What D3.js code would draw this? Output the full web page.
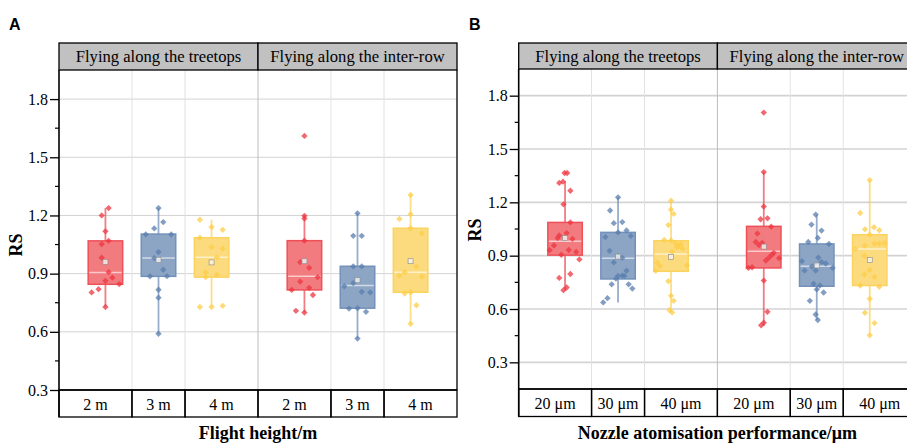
<!DOCTYPE html>
<html>
<head>
<meta charset="utf-8">
<script src="https://cdn.jsdelivr.net/npm/d3@7"></script>
<style>
  body { margin: 0; background: #fff; }
  svg { display: block; font-family: "Liberation Serif", "Times New Roman", serif; }
</style>
</head>
<body>
<div id="chart"></div>
<script>
// facet titles and x categories
let facets = ["Flying along the treetops", "Flying along the inter-row"];
let heightCats = ["2 m", "3 m", "4 m"];
let nozzleCats = ["20 μm", "30 μm", "40 μm"];
let yTicks = [0.3, 0.6, 0.9, 1.2, 1.5, 1.8];
let yMinor = [0.45, 0.75, 1.05, 1.35, 1.65];

// raw points: [RS, jitter in category units]
let treeH2 = [[1.238,0.06],[1.2,-0.07],[1.118,0],[1.052,-0.07],[1.069,0.06],[0.982,-0.07],[0.908,0.06],[0.879,0.13],[0.863,0],[0.846,0.26],[0.82,-0.13],[0.803,-0.26],[0.728,0]];
let treeH3 = [[1.238,0],[1.166,0.09],[1.133,-0.08],[1.102,-0.24],[1.102,0.24],[1.011,0],[0.98,-0.08],[0.92,0.09],[0.886,-0.16],[0.887,0.16],[0.817,0],[0.776,0],[0.59,0]];
let treeH4 = [[1.178,-0.22],[1.14,0],[1.126,0.21],[1.085,-0.22],[1.037,0],[1.03,0.21],[0.984,0.1],[0.906,-0.11],[0.882,-0.11],[0.894,0.1],[0.728,-0.22],[0.728,0],[0.734,0.21]];
let rowH2 = [[1.61,0],[1.198,0],[1.184,0],[1.07,0],[0.959,-0.08],[0.93,0.09],[0.882,0.25],[0.859,-0.08],[0.827,0.09],[0.816,-0.24],[0.79,0.16],[0.708,-0.16],[0.699,0]];
let rowH3 = [[1.211,0],[1.095,-0.08],[1.095,0.08],[0.937,-0.08],[0.937,0.08],[0.851,-0.08],[0.835,-0.25],[0.806,0.08],[0.803,0.24],[0.72,-0.16],[0.722,0],[0.703,0.16],[0.565,0]];
let rowH4 = [[1.306,0],[1.182,-0.21],[1.206,0],[1.134,0],[1.108,0.21],[0.936,0.11],[0.907,-0.11],[0.89,-0.21],[0.885,0.21],[0.797,-0.11],[0.804,0],[0.737,0.11],[0.641,0]];

let treeN20 = [[1.365,-0.01],[1.365,0.04],[1.316,-0.04],[1.309,-0.11],[1.265,0.1],[1.189,-0.03],[1.087,0.1],[1.027,0.03],[1.014,-0.11],[0.999,-0.14],[0.994,0.14],[0.957,-0.21],[0.931,-0.29],[0.932,0.07],[0.921,0.21],[0.905,-0.07],[0.879,0.27],[0.797,0.1],[0.775,-0.11],[0.721,0.03],[0.706,-0.03]];
let treeN30 = [[1.228,0],[1.154,-0.15],[1.083,-0.08],[1.089,0.08],[1.042,0.16],[1.031,0],[1.005,-0.24],[1.011,0.24],[0.927,-0.16],[0.897,0],[0.888,0.08],[0.862,-0.08],[0.815,0.16],[0.789,0.08],[0.786,0],[0.786,0.12],[0.771,-0.04],[0.739,-0.12],[0.739,0.2],[0.715,0.27],[0.661,-0.2],[0.637,-0.28]];
let treeN40 = [[1.209,0],[1.159,0],[1.135,0.05],[1.072,-0.05],[0.988,-0.13],[0.986,0],[0.97,0.08],[0.966,0.19],[0.953,0.14],[0.948,0.11],[0.94,0.22],[0.923,0.02],[0.86,-0.26],[0.841,-0.21],[0.815,-0.29],[0.845,0.3],[0.756,-0.05],[0.674,0],[0.646,0.05],[0.594,-0.03],[0.581,0.02]];
let rowN20 = [[1.705,0],[1.37,0],[1.176,0],[1.105,-0.06],[1.11,0.07],[1.063,0.14],[1.024,-0.12],[0.977,-0.15],[0.959,-0.09],[0.972,-0.03],[0.916,0.19],[0.904,0.15],[0.889,0.1],[0.873,0.04],[0.886,0.29],[0.831,-0.29],[0.835,-0.22],[0.76,0],[0.584,0.07],[0.523,0],[0.508,-0.05]];
let rowN30 = [[1.131,-0.02],[1.075,-0.1],[1.041,0.09],[1.0,0.02],[0.977,-0.16],[0.966,0.23],[0.889,0.03],[0.869,-0.28],[0.865,0.09],[0.856,0.17],[0.839,-0.09],[0.831,0.3],[0.816,-0.23],[0.816,-0.02],[0.742,-0.06],[0.732,0.06],[0.71,0],[0.693,0.13],[0.646,-0.13],[0.569,-0.02],[0.538,0.02]];
let rowN40 = [[1.325,0],[1.14,-0.18],[1.048,-0.09],[1.06,0.08],[1.043,0.18],[1.018,0],[0.968,0.09],[0.968,0.18],[0.97,0.28],[0.957,-0.09],[0.938,-0.27],[0.9,-0.1],[0.82,0],[0.794,-0.1],[0.781,0.09],[0.732,-0.18],[0.725,0.18],[0.657,0],[0.579,-0.09],[0.521,0.09],[0.452,0]];

// box statistics: [whisker low, Q1, median, Q3, whisker high, mean]
let statsTreeH = [[0.728,0.845,0.906,1.069,1.238,0.961],[0.59,0.886,0.98,1.104,1.238,0.97],[0.728,0.882,0.985,1.085,1.178,0.958]];
let statsRowH = [[0.699,0.816,0.887,1.07,1.201,0.964],[0.565,0.722,0.839,0.938,1.211,0.866],[0.641,0.804,0.907,1.134,1.306,0.964]];
let statsTreeN = [[0.706,0.903,0.981,1.087,1.318,0.999],[0.637,0.769,0.886,1.031,1.228,0.895],[0.581,0.812,0.91,0.984,1.209,0.893]];
let statsRowN = [[0.504,0.831,0.925,1.065,1.37,0.951],[0.538,0.728,0.841,0.966,1.131,0.845],[0.452,0.732,0.938,1.018,1.325,0.876]];

let colors = ["#EE3540", "#5A7EAE", "#FDCE48"];
let boxFill = ["#F27B80", "#8CA5C4", "#FCDB7E"];
let boxStroke = ["#EE5058", "#7391BA", "#FBD35F"];

let svg = d3.select("#chart")
  .append("svg")
    .attr("width", 907)
    .attr("height", 443);

svg.append("rect").attr("width", 907).attr("height", 443).attr("fill", "#fff");

function drawPanel(p) {
  let g = svg.append("g");
  let plotTop = p.top + p.headerH;
  let plotBottom = plotTop + p.plotH;
  let right = p.left + p.facetW * 2;

  let y = d3.scaleLinear().domain(p.yDomain).range([plotBottom, plotTop]);
  let xs = [0, 1].map(f => d3.scaleLinear()
    .domain([0.125, 3.875])
    .range([p.left + f * p.facetW, p.left + (f + 1) * p.facetW]));

  // horizontal grid
  g.selectAll(".hgrid")
    .data(yTicks)
    .enter().append("line")
      .attr("x1", p.left).attr("x2", right)
      .attr("y1", d => y(d)).attr("y2", d => y(d))
      .attr("stroke", "#d3d3d3")
      .attr("stroke-width", p.gridW);

  // vertical grid between categories
  xs.forEach(x => {
    [1.5, 2.5].forEach(v => {
      g.append("line")
        .attr("x1", x(v)).attr("x2", x(v))
        .attr("y1", plotTop).attr("y2", plotBottom)
        .attr("stroke", "#e2e2e2");
    });
  });
  g.append("line")
    .attr("x1", xs[1](0.125)).attr("x2", xs[1](0.125))
    .attr("y1", plotTop).attr("y2", plotBottom)
    .attr("stroke", "#bdbdbd");

  // boxes, whiskers and points
  p.groups.forEach((facet, f) => {
    let x = xs[f];
    facet.forEach((grp, i) => {
      let s = grp.stats;
      let cx = x(i + 1);
      let bw = x(1.65) - x(1);

      g.append("line")
        .attr("x1", cx).attr("x2", cx)
        .attr("y1", y(s[0])).attr("y2", y(s[4]))
        .attr("stroke", boxStroke[i])
        .attr("stroke-opacity", 0.75)
        .attr("stroke-width", 1.8);

      g.append("rect")
        .attr("x", cx - bw / 2)
        .attr("width", bw)
        .attr("y", y(s[3]))
        .attr("height", y(s[1]) - y(s[3]))
        .attr("fill", boxFill[i])
        .attr("stroke", boxStroke[i])
        .attr("stroke-width", 1.5);

      g.append("line")
        .attr("x1", cx - bw / 2 + 1).attr("x2", cx + bw / 2 - 1)
        .attr("y1", y(s[2])).attr("y2", y(s[2]))
        .attr("stroke", "#fff")
        .attr("stroke-opacity", 0.6)
        .attr("stroke-width", 1.5);

      g.selectAll(null)
        .data(grp.points)
        .enter().append("path")
          .attr("d", d3.symbol(d3.symbolSquare, 20)())
          .attr("transform", d => "translate(" + x(i + 1 + d[1]) + "," + y(d[0]) + ") rotate(45)")
          .attr("fill", colors[i])
          .attr("fill-opacity", 0.75);

      g.append("rect")
        .attr("x", cx - 2.5).attr("y", y(s[5]) - 2.5)
        .attr("width", 5).attr("height", 5)
        .attr("fill", "#f4f4f4")
        .attr("fill-opacity", 0.8)
        .attr("stroke", "#8a8a8a")
        .attr("stroke-width", 0.6);
    });
  });

  // y axis
  g.append("g")
    .attr("transform", "translate(" + p.left + ",0)")
    .call(d3.axisLeft(y).tickValues(yTicks).tickFormat(d3.format(".1f")).tickSize(9).tickPadding(2))
    .call(a => a.select(".domain").remove())
    .call(a => a.selectAll("text").attr("font-family", "Liberation Serif").attr("font-size", 16).attr("fill", "#000"))
    .call(a => a.selectAll("line").attr("stroke", "#000").attr("stroke-width", 1.3));
  g.selectAll(".minor")
    .data(yMinor)
    .enter().append("line")
      .attr("x1", p.left - 4).attr("x2", p.left)
      .attr("y1", d => y(d)).attr("y2", d => y(d))
      .attr("stroke", "#000").attr("stroke-width", 1.2);

  // frame lines of the plot
  g.append("line")
    .attr("x1", p.left).attr("x2", p.left)
    .attr("y1", plotTop).attr("y2", plotBottom + p.catH)
    .attr("stroke", "#000").attr("stroke-width", 1.6);
  g.append("line")
    .attr("x1", right).attr("x2", right)
    .attr("y1", plotTop).attr("y2", plotBottom)
    .attr("stroke", "#000").attr("stroke-width", 1.3);

  // facet headers
  xs.forEach((x, f) => {
    g.append("rect")
      .attr("x", x(0.125)).attr("y", p.top)
      .attr("width", p.facetW).attr("height", p.headerH)
      .attr("fill", "#c1c1c1")
      .attr("stroke", "#000").attr("stroke-width", 1.3);
    g.append("text")
      .attr("x", x(2)).attr("y", p.top + p.headerH / 2 + 5.5)
      .attr("text-anchor", "middle")
      .attr("font-size", 16.6)
      .text(facets[f]);
  });

  // category cells below the axis
  xs.forEach(x => {
    let edges = [0.125, 1.5, 2.5, 3.875];
    p.cats.forEach((c, i) => {
      g.append("rect")
        .attr("x", x(edges[i])).attr("y", plotBottom)
        .attr("width", x(edges[i + 1]) - x(edges[i]))
        .attr("height", p.catH)
        .attr("fill", "none")
        .attr("stroke", "#000").attr("stroke-width", 1.3);
      g.append("text")
        .attr("x", (x(edges[i]) + x(edges[i + 1])) / 2)
        .attr("y", plotBottom + p.catH / 2 + 6)
        .attr("text-anchor", "middle")
        .attr("font-size", 16)
        .text(c);
    });
  });
  g.append("line")
    .attr("x1", p.left).attr("x2", right)
    .attr("y1", plotBottom).attr("y2", plotBottom)
    .attr("stroke", "#000").attr("stroke-width", 1.6);

  // axis titles
  g.append("text")
    .attr("x", p.left + p.facetW).attr("y", 439)
    .attr("text-anchor", "middle")
    .attr("font-size", 18).attr("font-weight", "bold")
    .text(p.xTitle);
  g.append("text")
    .attr("transform", "translate(" + p.yTitleX + "," + p.yTitleY + ") rotate(-90)")
    .attr("text-anchor", "middle")
    .attr("font-size", 18).attr("font-weight", "bold")
    .text("RS");

  // panel letter
  g.append("text")
    .attr("x", p.letterX).attr("y", 30)
    .attr("font-family", "Liberation Sans, Arial, sans-serif")
    .attr("font-size", 16).attr("font-weight", "bold")
    .text(p.letter);
}

drawPanel({
  letter: "A", letterX: 9,
  left: 59, top: 43, headerH: 27, plotH: 320, catH: 27, facetW: 199,
  yDomain: [0.3, 1.95], gridW: 1,
  cats: heightCats, xTitle: "Flight height/m",
  yTitleX: 22, yTitleY: 245,
  groups: [
    [{points: treeH2, stats: statsTreeH[0]}, {points: treeH3, stats: statsTreeH[1]}, {points: treeH4, stats: statsTreeH[2]}],
    [{points: rowH2, stats: statsRowH[0]}, {points: rowH3, stats: statsRowH[1]}, {points: rowH4, stats: statsRowH[2]}]
  ]
});

drawPanel({
  letter: "B", letterX: 469,
  left: 518.7, top: 43, headerH: 26, plotH: 320, catH: 27.5, facetW: 198.7,
  yDomain: [0.15, 1.95], gridW: 1.6,
  cats: nozzleCats, xTitle: "Nozzle atomisation performance/μm",
  yTitleX: 480.5, yTitleY: 230,
  groups: [
    [{points: treeN20, stats: statsTreeN[0]}, {points: treeN30, stats: statsTreeN[1]}, {points: treeN40, stats: statsTreeN[2]}],
    [{points: rowN20, stats: statsRowN[0]}, {points: rowN30, stats: statsRowN[1]}, {points: rowN40, stats: statsRowN[2]}]
  ]
});
</script>
</body>
</html>
